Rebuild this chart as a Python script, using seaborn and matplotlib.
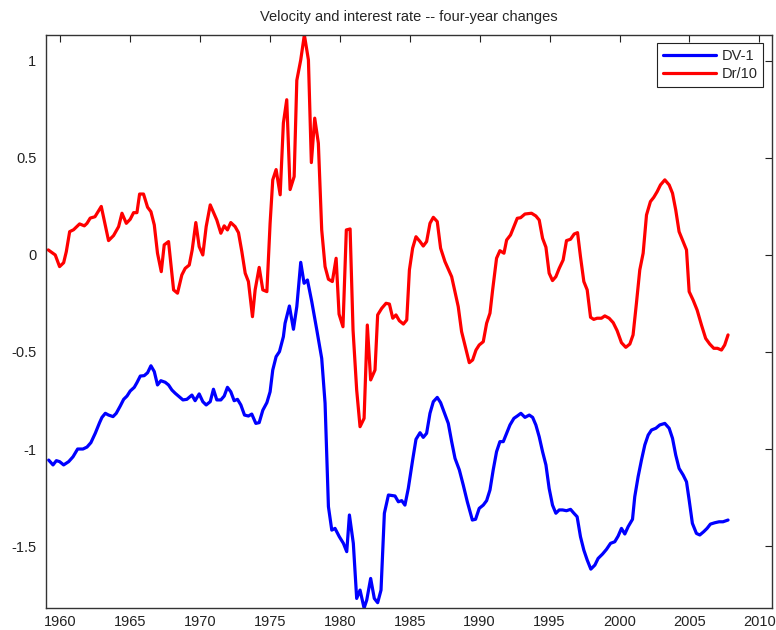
import matplotlib
matplotlib.use("Agg")
import matplotlib.pyplot as plt
import seaborn as sns
from matplotlib.ticker import FuncFormatter, MultipleLocator

# DV-1 (velocity change)
dv_years = [
    1959.19, 1959.5, 1959.74, 1959.97, 1960.26, 1960.62, 1960.93, 1961.26, 1961.64, 1961.93,
    1962.21, 1962.52, 1962.83, 1963.0, 1963.24, 1963.47, 1963.79, 1964.02, 1964.31, 1964.55,
    1964.79, 1965.02, 1965.31, 1965.5, 1965.74, 1966.02, 1966.26, 1966.5, 1966.74, 1966.97,
    1967.21, 1967.52, 1967.76, 1968.0, 1968.24, 1968.47, 1968.79, 1969.07, 1969.43, 1969.66,
    1969.95, 1970.21, 1970.45, 1970.74, 1970.97, 1971.21, 1971.5, 1971.74, 1971.97, 1972.21,
    1972.45, 1972.69, 1972.93, 1973.19, 1973.47, 1973.71, 1974.0, 1974.24, 1974.5, 1974.79,
    1975.02, 1975.21, 1975.45, 1975.69, 1975.97, 1976.09, 1976.4, 1976.69, 1976.93, 1977.21,
    1977.45, 1977.69, 1978.0, 1978.36, 1978.71, 1978.95, 1979.19, 1979.43, 1979.66, 1979.97,
    1980.26, 1980.5, 1980.69, 1980.97, 1981.21, 1981.45, 1981.74, 1981.93, 1982.21, 1982.47,
    1982.71, 1982.95, 1983.19, 1983.48, 1983.95, 1984.19, 1984.43, 1984.66, 1984.9, 1985.21,
    1985.45, 1985.74, 1985.97, 1986.21, 1986.45, 1986.69, 1986.97, 1987.21, 1987.45, 1987.76,
    1988.0, 1988.24, 1988.55, 1988.83, 1989.12, 1989.48, 1989.71, 1989.97, 1990.26, 1990.5,
    1990.74, 1990.97, 1991.21, 1991.45, 1991.69, 1991.93, 1992.17, 1992.45, 1992.69, 1992.95,
    1993.24, 1993.55, 1993.79, 1994.02, 1994.26, 1994.5, 1994.74, 1994.97, 1995.21, 1995.45,
    1995.69, 1995.93, 1996.21, 1996.5, 1996.74, 1996.97, 1997.21, 1997.45, 1997.69, 1997.95,
    1998.24, 1998.47, 1998.79, 1999.07, 1999.36, 1999.66, 1999.9, 2000.14, 2000.38, 2000.62,
    2000.93, 2001.09, 2001.33, 2001.57, 2001.81, 2002.05, 2002.29, 2002.6, 2002.88, 2003.24,
    2003.55, 2003.79, 2004.02, 2004.26, 2004.55, 2004.79, 2004.98, 2005.21, 2005.5, 2005.74,
    2006.02, 2006.26, 2006.5, 2006.81, 2007.12, 2007.4, 2007.6, 2007.76,
]
dv_values = [
    -1.057, -1.082, -1.06, -1.065, -1.082, -1.065, -1.04, -1.0, -1.0, -0.99,
    -0.967, -0.919, -0.864, -0.837, -0.816, -0.825, -0.833, -0.816, -0.778, -0.744,
    -0.727, -0.701, -0.682, -0.658, -0.624, -0.622, -0.607, -0.571, -0.601, -0.67,
    -0.648, -0.656, -0.67, -0.696, -0.713, -0.727, -0.747, -0.744, -0.722, -0.751,
    -0.716, -0.756, -0.773, -0.756, -0.692, -0.747, -0.747, -0.727, -0.682, -0.705,
    -0.751, -0.744, -0.773, -0.825, -0.83, -0.82, -0.868, -0.864, -0.80, -0.761,
    -0.705, -0.593, -0.524, -0.498, -0.421, -0.352, -0.263, -0.383, -0.266, -0.038,
    -0.146, -0.129, -0.241, -0.387, -0.533, -0.764, -1.297, -1.418, -1.409, -1.452,
    -1.486, -1.529, -1.34, -1.486, -1.77, -1.727, -1.82, -1.778, -1.667, -1.77,
    -1.792, -1.727, -1.331, -1.237, -1.242, -1.272, -1.266, -1.289, -1.203, -1.057,
    -0.95, -0.916, -0.94, -0.919, -0.816, -0.756, -0.734, -0.761, -0.808, -0.868,
    -0.962, -1.048, -1.108, -1.186, -1.272, -1.366, -1.362, -1.306, -1.289, -1.266,
    -1.211, -1.108, -1.014, -0.962, -0.962, -0.919, -0.876, -0.842, -0.83, -0.816,
    -0.837, -0.825, -0.837, -0.876, -0.937, -1.014, -1.082, -1.203, -1.289, -1.331,
    -1.314, -1.314, -1.318, -1.311, -1.331, -1.349, -1.452, -1.521, -1.572, -1.619,
    -1.598, -1.564, -1.541, -1.517, -1.486, -1.478, -1.449, -1.409, -1.438, -1.40,
    -1.362, -1.246, -1.143, -1.057, -0.979, -0.928, -0.902, -0.893, -0.876, -0.868,
    -0.893, -0.945, -1.031, -1.10, -1.134, -1.169, -1.263, -1.383, -1.435, -1.443,
    -1.426, -1.409, -1.387, -1.38, -1.375, -1.375, -1.37, -1.366,
]

# Dr/10 (interest rate change / 10)
dr_years = [
    1959.16, 1959.66, 1959.97, 1960.26, 1960.45, 1960.69, 1960.97, 1961.4, 1961.74, 1961.93,
    1962.16, 1962.5, 1962.95, 1963.47, 1963.83, 1964.19, 1964.43, 1964.74, 1965.02, 1965.26,
    1965.5, 1965.69, 1965.97, 1966.26, 1966.5, 1966.74, 1966.97, 1967.24, 1967.45, 1967.76,
    1968.12, 1968.4, 1968.71, 1968.95, 1969.24, 1969.45, 1969.71, 1969.95, 1970.21, 1970.45,
    1970.74, 1971.21, 1971.5, 1971.74, 1971.97, 1972.21, 1972.52, 1972.76, 1973.0, 1973.24,
    1973.47, 1973.76, 1973.95, 1974.24, 1974.5, 1974.79, 1975.02, 1975.21, 1975.45, 1975.74,
    1975.97, 1976.21, 1976.45, 1976.74, 1976.93, 1977.21, 1977.47, 1977.76, 1977.97, 1978.21,
    1978.47, 1978.71, 1978.95, 1979.19, 1979.47, 1979.74, 1979.95, 1980.23, 1980.47, 1980.74,
    1980.95, 1981.21, 1981.45, 1981.74, 1981.97, 1982.21, 1982.52, 1982.71, 1983.0, 1983.31,
    1983.55, 1983.79, 1984.02, 1984.26, 1984.55, 1984.79, 1984.98, 1985.21, 1985.45, 1985.74,
    1985.97, 1986.21, 1986.45, 1986.69, 1986.97, 1987.21, 1987.52, 1988.0, 1988.47, 1988.71,
    1988.95, 1989.26, 1989.5, 1989.74, 1989.97, 1990.26, 1990.5, 1990.74, 1990.93, 1991.21,
    1991.45, 1991.74, 1991.93, 1992.21, 1992.45, 1992.69, 1992.93, 1993.24, 1993.71, 1994.02,
    1994.26, 1994.5, 1994.74, 1994.97, 1995.21, 1995.45, 1995.69, 1995.97, 1996.21, 1996.5,
    1996.76, 1997.0, 1997.21, 1997.45, 1997.69, 1997.93, 1998.16, 1998.4, 1998.71, 1998.95,
    1999.26, 1999.55, 1999.83, 2000.14, 2000.45, 2000.74, 2000.97, 2001.21, 2001.45, 2001.69,
    2001.93, 2002.21, 2002.45, 2002.69, 2002.93, 2003.24, 2003.55, 2003.79, 2004.02, 2004.26,
    2004.55, 2004.79, 2004.98, 2005.26, 2005.55, 2005.86, 2006.16, 2006.45, 2006.74, 2007.0,
    2007.29, 2007.52, 2007.76,
]
dr_values = [
    0.026, 0.0, -0.06, -0.04, 0.017, 0.12, 0.13, 0.16, 0.15, 0.163,
    0.19, 0.197, 0.25, 0.074, 0.10, 0.146, 0.215, 0.163, 0.184, 0.218,
    0.218, 0.314, 0.314, 0.246, 0.223, 0.155, 0.009, -0.086, 0.052, 0.069,
    -0.18, -0.197, -0.103, -0.069, -0.052, 0.026, 0.167, 0.043, 0.0, 0.146,
    0.258, 0.18, 0.112, 0.15, 0.129, 0.167, 0.146, 0.115, 0.017, -0.094,
    -0.137, -0.318, -0.18, -0.064, -0.18, -0.189, 0.163, 0.387, 0.44, 0.31,
    0.68, 0.80, 0.337, 0.404, 0.90, 1.005, 1.134, 1.005, 0.476, 0.705,
    0.576, 0.129, -0.06, -0.125, -0.137, -0.017, -0.305, -0.37, 0.129, 0.134,
    -0.387, -0.696, -0.885, -0.842, -0.361, -0.644, -0.593, -0.309, -0.275, -0.249,
    -0.253, -0.326, -0.309, -0.339, -0.356, -0.335, -0.077, 0.035, 0.094, 0.069,
    0.046, 0.069, 0.163, 0.194, 0.172, 0.035, -0.034, -0.112, -0.266, -0.395,
    -0.464, -0.555, -0.541, -0.49, -0.464, -0.447, -0.352, -0.30, -0.18, -0.017,
    0.022, 0.009, 0.077, 0.103, 0.146, 0.189, 0.192, 0.211, 0.215, 0.201,
    0.18, 0.086, 0.04, -0.094, -0.132, -0.112, -0.069, -0.026, 0.074, 0.081,
    0.108, 0.115, -0.009, -0.137, -0.18, -0.321, -0.332, -0.326, -0.326, -0.314,
    -0.326, -0.349, -0.39, -0.452, -0.476, -0.459, -0.412, -0.249, -0.077, 0.009,
    0.206, 0.275, 0.297, 0.326, 0.361, 0.387, 0.361, 0.318, 0.232, 0.12,
    0.069, 0.026, -0.189, -0.232, -0.284, -0.361, -0.43, -0.459, -0.481, -0.481,
    -0.49, -0.464, -0.412,
]

sns.set_style("white")
plt.rcParams["font.family"] = ["Liberation Sans", "DejaVu Sans"]
plt.rcParams["axes.unicode_minus"] = False

fig = plt.figure(figsize=(7.76, 6.30), dpi=100)
ax = fig.add_axes([0.0593, 0.0344, 0.9355, 0.9105])

sns.lineplot(x=dv_years, y=dv_values, color="#0000ff", linewidth=2.3, label="DV-1",
             sort=False, estimator=None, ax=ax)
sns.lineplot(x=dr_years, y=dr_values, color="#ff0000", linewidth=2.3, label="Dr/10",
             sort=False, estimator=None, ax=ax)

ax.set_xlim(1959.0, 2010.9)
ax.set_ylim(-1.821, 1.135)
ax.xaxis.set_major_locator(MultipleLocator(5))
ax.yaxis.set_major_locator(MultipleLocator(0.5))
ax.xaxis.set_major_formatter(FuncFormatter(lambda v, p: f"{v:g}"))
ax.yaxis.set_major_formatter(FuncFormatter(lambda v, p: f"{v:g}"))
ax.tick_params(direction="in", length=5, width=0.8, top=True, right=True,
               labelsize=10.5, colors="#222222")
ax.tick_params(axis="y", pad=7)
ax.tick_params(axis="x", pad=5)
for spine in ax.spines.values():
    spine.set_color("#333333")
    spine.set_linewidth(1.0)

ax.set_xlabel("")
ax.set_ylabel("")
ax.set_title("Velocity and interest rate -- four-year changes", fontsize=10.5, pad=10)

leg = ax.legend(loc="upper right", fontsize=10.5, handlelength=3.6, fancybox=False,
                framealpha=1, edgecolor="#222222", borderaxespad=0.6,
                borderpad=0.4, labelspacing=0.25, handletextpad=0.4)
leg.get_frame().set_linewidth(0.8)
for line in leg.get_lines():
    line.set_linewidth(2.3)

fig.savefig("out.png", dpi=100)
